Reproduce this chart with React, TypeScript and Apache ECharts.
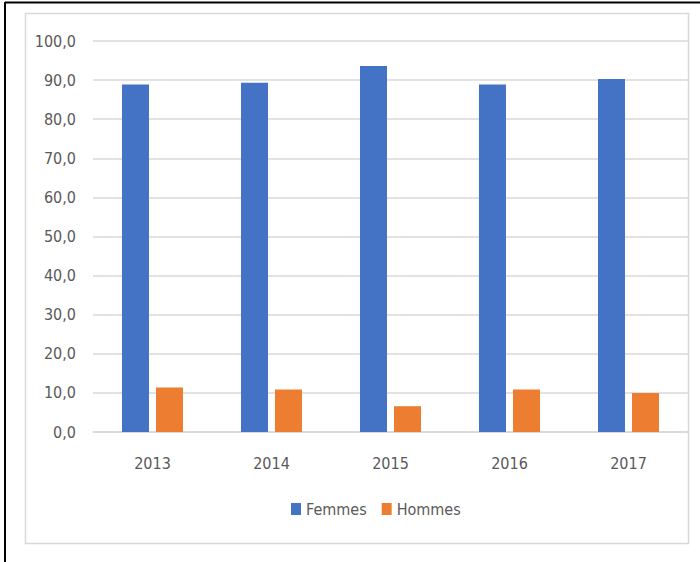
import React, { useEffect, useRef } from "react";
import * as echarts from "echarts";

const categories = ["2013", "2014", "2015", "2016", "2017"];
const femmes = [88.9, 89.3, 93.6, 88.9, 90.3];
const hommes = [11.4, 10.9, 6.6, 10.9, 10.0];
const seriesNames = ["Femmes", "Hommes"];

const FONT = "'Liberation Sans Narrow', 'DejaVu Sans Condensed', 'Noto Sans', sans-serif";

export default function App() {
  const ref = useRef<HTMLDivElement>(null);
  useEffect(() => {
    const chart = echarts.init(ref.current!, undefined, { renderer: "svg" });
    chart.setOption({
      animation: false,
      backgroundColor: "#ffffff",
      textStyle: { fontFamily: FONT },
      graphic: [
        { type: "rect", shape: { x: 25.5, y: 13.5, width: 663, height: 530 }, style: { fill: "none", stroke: "#D9D9D9", lineWidth: 1.5 }, z: -1 },
        { type: "line", shape: { x1: 5, y1: 2.5, x2: 700, y2: 2.5 }, style: { stroke: "#000", lineWidth: 2 } },
        { type: "line", shape: { x1: 5, y1: 2, x2: 5, y2: 562 }, style: { stroke: "#000", lineWidth: 2 } },
      ],
      grid: { left: 93, right: 12, top: 41, bottom: 130 },
      legend: {
        data: seriesNames,
        bottom: 40,
        left: 286,
        itemWidth: 10,
        itemHeight: 12,
        itemGap: 15,
        icon: "rect",
        textStyle: { fontFamily: FONT, fontSize: 16, color: "#595959" },
      },
      xAxis: {
        type: "category",
        data: categories,
        axisLine: { lineStyle: { color: "#D9D9D9", width: 1.5 } },
        axisTick: { show: false },
        axisLabel: { color: "#595959", fontSize: 16, fontFamily: FONT, margin: 23 },
      },
      yAxis: {
        type: "value",
        min: 0,
        max: 100,
        interval: 10,
        axisLine: { show: false },
        axisTick: { show: false },
        splitLine: { lineStyle: { color: "#D9D9D9", width: 1.5 } },
        axisLabel: {
          color: "#595959",
          fontSize: 16,
          fontFamily: FONT,
          margin: 17,
          formatter: (v: number) => v.toFixed(1).replace(".", ","),
        },
      },
      series: [
        { name: seriesNames[0], type: "bar", data: femmes, barWidth: 27, barGap: "26%", itemStyle: { color: "#4472C4" } },
        { name: seriesNames[1], type: "bar", data: hommes, barWidth: 27, barGap: "26%", itemStyle: { color: "#ED7D31" } },
      ],
    });
    return () => chart.dispose();
  }, []);
  return <div ref={ref} style={{ position: "fixed", left: 0, top: 0, width: 700, height: 562 }} />;
}
